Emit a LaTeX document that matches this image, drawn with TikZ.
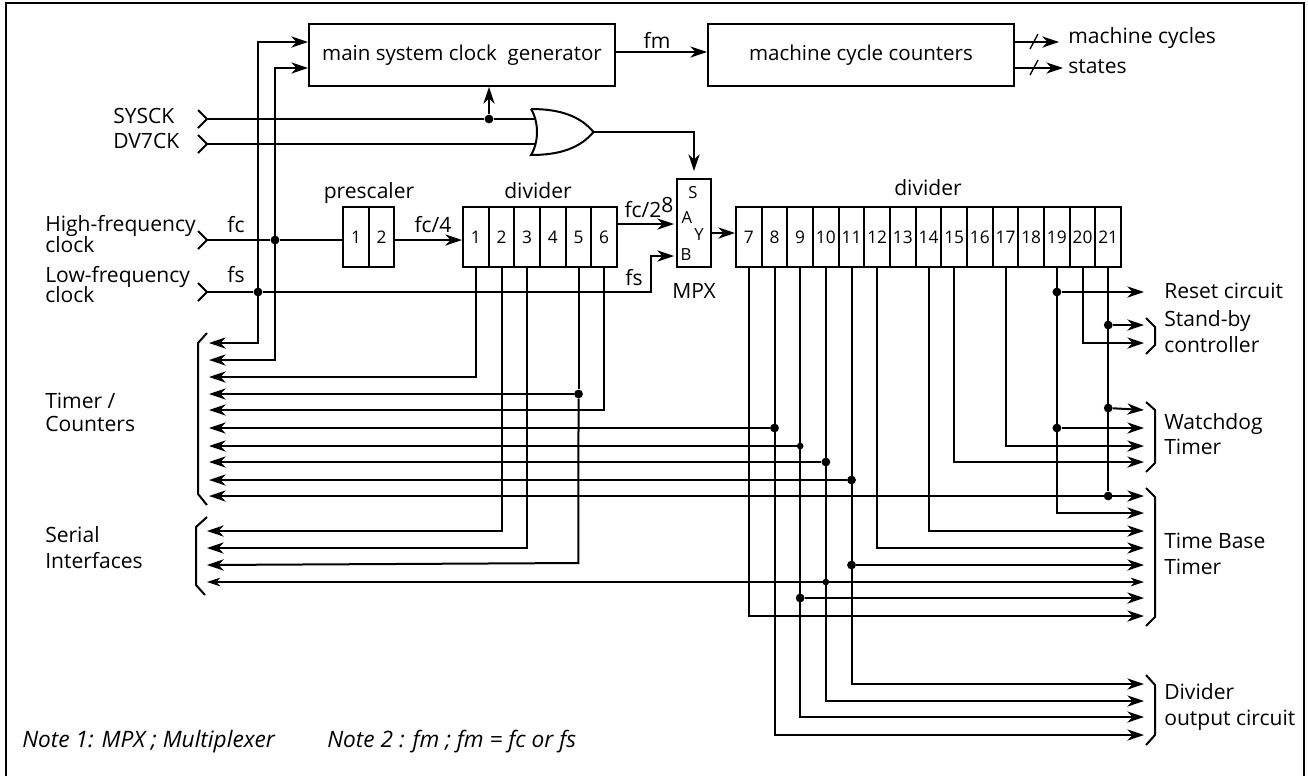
\documentclass[tikz,border=0pt]{standalone}
\usepackage{fontspec}
\setmainfont{Open Sans}
\usetikzlibrary{arrows.meta,calc}
\tikzset{
  wire/.style={line width=1.5pt,line cap=butt,line join=miter},
  thinwire/.style={line width=.8pt},
  hd/.tip={Stealth[length=12.5pt,width=8.4pt,inset=3.8pt]},
  hdt/.tip={Stealth[length=10pt,width=6.5pt,inset=3pt]},
  arr/.style={wire,-hd},
  arrb/.style={wire,hd-hd},
  box/.style={draw,line width=1.5pt,inner sep=0pt,font=\fontsize{15.4pt}{18pt}\selectfont},
  cell/.style={draw,line width=1.5pt,inner sep=0pt,minimum width=19.25pt,minimum height=45pt,font=\fontsize{13pt}{15pt}\selectfont},
  jdot/.style={circle,fill=black,inner sep=0pt,minimum size=6.6pt},
  jdots/.style={circle,fill=black,inner sep=0pt,minimum size=5pt},
  lab/.style={inner sep=0pt,anchor=west,font=\fontsize{15.8pt}{18pt}\selectfont,text height=11pt,text depth=3.5pt},
  labc/.style={lab,anchor=center},
  pin/.style={labc,font=\fontsize{12.5pt}{14pt}\selectfont},
  note/.style={lab,font=\fontsize{17pt}{19pt}\selectfont\itshape},
  brace/.style={line width=1.5pt,line join=miter},
}
\begin{document}
\begin{tikzpicture}[x=.75pt,y=-.75pt]
\useasboundingbox (0,0) rectangle (1308,776);
% frame
\draw[line width=2pt] (6,776) -- (6,3) -- (1304,3) -- (1304,776);

% boxes
\node[box,minimum width=229.5pt,minimum height=46.5pt] (main) at (462,55) {main system clock\ \ generator};
\node[box,minimum width=229.5pt,minimum height=46.5pt] (machine) at (861,55) {machine cycle counters};
\foreach \i/\x in {1/356,2/381.5}
  \node[cell] (p\i) at (\x,237) {\i};
\foreach \i in {1,...,6}
  \node[cell] (a\i) at ({463+25.67*(\i-.5)},237) {\i};
\foreach \i in {7,...,21}
  \node[cell] (d\i) at ({736+25.67*(\i-6.5)},237) {\i};
\node[draw,line width=1.5pt,minimum width=26pt,minimum height=66pt,inner sep=0pt] (mpx) at (694,223) {};

% box labels
\node[labc] (tpres) at (369,193) {prescaler};
\node[labc] (tdiva) at (538,193) {divider};
\node[labc] (tdivb) at (928,190) {divider};
\node[labc] (tmpx) at (694,293) {MPX};
\node[pin] (ps) at (693,193) {S};
\node[pin] (pa) at (687,218) {A};
\node[pin] (py) at (699,235) {Y};
\node[pin] (pb) at (686,255) {B};

% OR gate
\draw[line width=1.5pt,line join=miter]
  (531,109) .. controls (560,109) and (580,116) .. (593.5,132)
  .. controls (580,148) and (560,155) .. (531,155)
  .. controls (539,142) and (539,122) .. (531,109);
\coordinate (ortip) at (593.5,132);
\coordinate (orA) at (535.5,119);
\coordinate (orB) at (535.5,144);
\coordinate (Sin) at (694,171);

% input chevrons
\coordinate (insys) at (207,119);
\coordinate (indv) at (207,144);
\coordinate (inhf) at (207,240);
\coordinate (inlf) at (207,292);
\foreach \c in {insys,indv,inhf,inlf}
  \draw[brace] ($(\c)+(-9,-9)$) -- (\c) -- ($(\c)+(-9,9)$);

% left labels
\node[lab,anchor=west] (tsys) at (113,118) {SYSCK};
\node[lab] (tdv) at (113,143) {DV7CK};
\node[lab] (thf1) at (45,226) {High-frequency};
\node[lab] (thf2) at (45,247) {clock};
\node[lab] (tlf1) at (45,277) {Low-frequency};
\node[lab] (tlf2) at (45,297) {clock};
\node[lab] (ttc1) at (45,403) {Timer /};
\node[lab] (ttc2) at (45,426) {Counters};
\node[lab] (tsi1) at (45,537) {Serial};
\node[lab] (tsi2) at (45,563) {Interfaces};
\node[labc] (tfc) at (236,227) {fc};
\node[labc] (tfs) at (236,277) {fs};
\node[labc] (tfm) at (657,43) {fm};
\node[labc] (tfc4) at (433,227) {fc/4};
\node[labc] (tfc8) at (649,212) {fc/2\raisebox{3.5pt}{8}};
\node[labc] (tfs2) at (634,280) {fs};

% right labels
\node[lab] (tmc) at (1068,38) {machine cycles};
\node[lab] (tst) at (1068,68) {states};
\node[lab] (trs) at (1164,293) {Reset circuit};
\node[lab] (tsb1) at (1164,321) {Stand-by};
\node[lab] (tsb2) at (1164,347) {controller};
\node[lab] (twd1) at (1164,424) {Watchdog};
\node[lab] (twd2) at (1164,449) {Timer};
\node[lab] (ttb1) at (1164,543) {Time Base};
\node[lab] (ttb2) at (1164,569) {Timer};
\node[lab] (tdo1) at (1164,694) {Divider};
\node[lab] (tdo2) at (1164,720) {output circuit};

% notes
\node[note] (n1) at (22,742) {Note 1: MPX ; Multiplexer};
\node[note] (n2) at (327,742) {Note 2 : fm ; fm = fc or fs};

% end coordinates
\foreach \n/\y in {1/343,2/360,3/377,4/394,5/410,6/428,7/446,8/462,9/480,10/496}
  \coordinate (L\n) at (209,\y);
\foreach \n/\y in {1/531,2/548,3/565,4/582}
  \coordinate (S\n) at (207,\y);
\foreach \n/\y in {rs/292,sa/325,sb/343,wa/410,wb/428,wc/446,wd/462,ta/496,tb/513,tc/531,td/548,te/565,tf/582,tg/598,th/616,oa/684,ob/701,oc/717,od/735}
  \coordinate (R\n) at (1144,\y);
\coordinate (Ma) at (308,42);
\coordinate (Mb) at (308,68);
\coordinate (Va) at (258,42);
\coordinate (Vb) at (275,68);
\coordinate (Aa) at (674,224);
\coordinate (Ab) at (674,256);
\coordinate (Fk) at (651,256);
\coordinate (Sk) at (578.4,563);
\coordinate (Fm) at (616,52);
\coordinate (Yo) at (711,233);

% junctions
\node[jdot] (jsys) at (489,119) {};
\node[jdot] (jfc) at (Vb |- inhf) {};
\node[jdot] (jfs) at (Va |- inlf) {};
\node[jdot] (ja5) at (a5.south |- L4) {};
\node[jdot] (j8) at (d8.south |- L6) {};
\node[jdots] (j9) at (d9.south |- L7) {};
\node[jdot] (j10) at (d10.south |- L8) {};
\node[jdot] (j11) at (d11.south |- L9) {};
\node[jdot] (j19a) at (d19.south |- Rrs) {};
\node[jdot] (j19b) at (d19.south |- Rwb) {};
\node[jdot] (j21a) at (d21.south |- Rsa) {};
\node[jdot] (j21b) at ($(d21.south |- Rwa)+(0,-2)$) {};
\node[jdot] (j21c) at (d21.south |- Rta) {};
\node[jdot] (j11b) at (d11.south |- Rte) {};
\node[jdots] (j10b) at (d10.south |- Rtf) {};
\node[jdot] (j9b) at (d9.south |- Rtg) {};

% clock routing
\draw[arrb] (L1) -| (Va) -- (Ma);
\draw[arrb] (L2) -| (Vb) -- (Mb);
\draw[wire] (insys) -- (jsys) -- (orA);
\draw[wire] (indv) -- (orB);
\draw[arr] (jsys) -- (main.south -| jsys);
\draw[arr] (ortip) -| (Sin);
\draw[wire] (inhf) -- (jfc) -- (p1.west |- jfc);
\draw[wire] (inlf) -- (jfs);
\draw[arr] (jfs) -| (Fk) -- (Ab);
\draw[arr] (p2.east |- inhf) -- (a1.west |- inhf);
\draw[arr] (a6.east |- Aa) -- (Aa);
\draw[arr] (Fm) -- (machine.west |- Fm);
\draw[arr] (Yo) -- (d7.west |- Yo);

% machine outputs
\draw[arr] (machine.east |- Ma) -- (1059,42);
\draw[arr] (machine.east |- Mb) -- (1063,68);
\draw[line width=1pt] (1030,49) -- (1038,34);
\draw[line width=1pt] (1030,75) -- (1038,60);

% first divider taps
\draw[arr] (a1.south) |- (L3);
\draw[arr] (a2.south) |- (S1);
\draw[arr] (a3.south) |- (S2);
\draw[wire] (a5.south) -- (ja5);
\draw[arr] (ja5) -- (L4);
\draw[arr] (ja5) -- (Sk) -- (S3);
\draw[arr] (a6.south) |- (L5);

% second divider taps, to the left
\draw[arr] (j8) -- (L6);
\draw[arr] (j9) -- (L7);
\draw[arr] (j10) -- (L8);
\draw[arr] (j11) -- (L9);
\draw[arrb] (L10) -- (Rta);
\draw[thinwire,hdt-hdt] (S4) -- (Rtf);

% second divider taps, to the right
\draw[arr] (d7.south) |- (Rth);
\draw[arr] (d8.south) |- (Rod);
\draw[arr] (d9.south) |- (Roc);
\draw[arr] (d10.south) |- (Rob);
\draw[arr] (d11.south) |- (Roa);
\draw[arr] (d12.south) |- (Rtd);
\draw[arr] (d14.south) |- (Rtc);
\draw[arr] (d15.south) |- (Rwd);
\draw[arr] (d17.south) |- (Rwc);
\draw[arr] (d19.south) |- (Rtb);
\draw[arr] (d20.south) |- (Rsb);
\draw[wire] (d21.south) -- (j21c);
\draw[arr] (j19a) -- (Rrs);
\draw[arr] (j19b) -- (Rwb);
\draw[arr] (j21a) -- (Rsa);
\draw[arr] (j21b) -- (Rwa);
\draw[arr] (j11b) -- (Rte);
\draw[arr] (j9b) -- (Rtg);

% brackets, right
\draw[brace] (1146,318) -- (1155,327) -- (1155,345) -- (1146,354);
\draw[brace] (1146,402) -- (1155,410) -- (1155,463) -- (1146,472);
\draw[brace] (1146,488) -- (1155,497) -- (1155,617) -- (1146,626);
\draw[brace] (1146,675) -- (1155,685) -- (1155,735) -- (1146,745);
% brackets, left
\draw[brace] (207,333) -- (198,343) -- (198,494) -- (207,505);
\draw[brace] (207,517) -- (196,527) -- (196,585) -- (205,595);
\end{tikzpicture}
\end{document}
